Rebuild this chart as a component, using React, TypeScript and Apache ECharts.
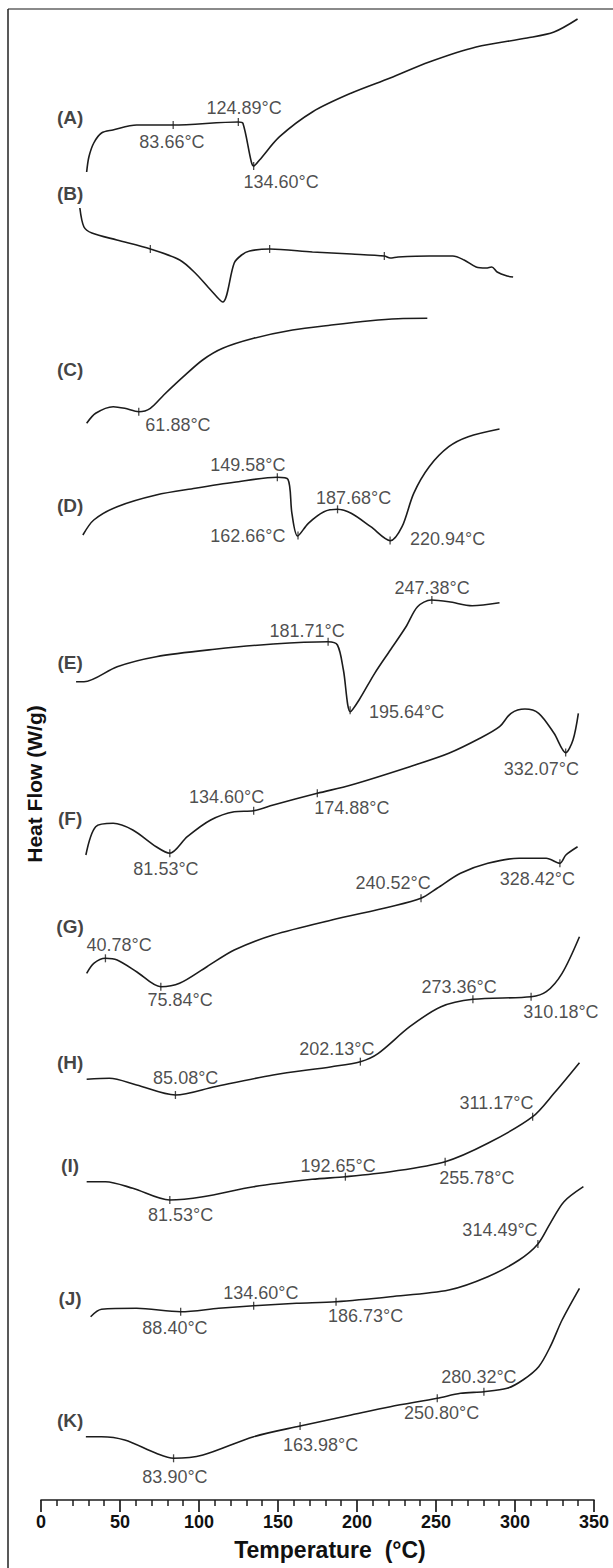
import React, { useEffect, useRef } from "react";
import * as echarts from "echarts";

// Temperature axis
const T_MIN = 0;
const T_MAX = 350;
const T_STEP = 50;

// Curves: [temperature °C, stacked heat-flow (arbitrary units, offset per trace)]
const curveA = [[28.9,1328],[30.3,1343],[33.4,1357],[38.3,1367],[45.5,1370],[60.6,1375],[83.7,1375],[124.9,1378],[127.8,1376.7],[133.1,1338.3],[134.6,1334],[138.3,1340],[151,1363.3],[172,1388.3],[196.5,1407],[221,1422],[245.7,1438],[275.4,1453],[307.6,1462],[324.7,1468],[339.6,1481]];
const curveB = [[24.6,1292],[27.2,1273],[32.2,1267],[48,1260],[69.2,1251],[87.8,1240],[97.6,1227],[107.4,1210],[115,1198],[122.3,1237],[127,1245],[132,1249],[144.7,1251],[171.8,1248],[196.5,1246],[217.3,1244],[221,1242],[226,1243],[245.7,1244],[260.6,1244],[267.8,1240],[275.4,1233],[281.7,1232],[285.3,1233],[288.7,1228],[295,1224],[298.8,1223]];
const curveC = [[28.9,1076.7],[34.6,1086.7],[45.7,1093.3],[53,1091.7],[61.9,1088.3],[69.2,1091.7],[77.7,1105],[90.1,1123.3],[102.3,1140],[115,1151.7],[134.6,1161.7],[159.2,1170],[183.8,1175],[208.5,1179.3],[226,1181.3],[244.5,1181.7]];
const curveD = [[26.5,965],[33.4,980],[48.2,993.3],[72.9,1005],[97.6,1011.7],[122.3,1017.7],[149.5,1022.7],[156.3,1020.7],[158.8,986.7],[162.4,964],[169.2,976.7],[179.1,988.3],[187.6,990.7],[196.3,986.7],[208.7,973.3],[221.1,959.3],[228.5,973.3],[235.9,1006.7],[245.7,1033.3],[258.1,1053.3],[270.4,1063.3],[290.2,1071]];
const curveE = [[22.2,818.3],[27.2,818.3],[48.2,833.3],[72.9,843.3],[109.9,850.7],[146.9,856],[181.6,858.3],[187.6,855],[191.4,830],[195.8,788.3],[201.3,800],[211.2,826.7],[221.1,850],[231,873.3],[238.3,893.3],[247,900],[258.1,898.3],[272.9,894.3],[290.2,897.3]];
const curveF = [[28.4,645],[34.6,673.3],[45.7,676.7],[58.1,670],[72.9,653.3],[81.5,646.7],[92.6,663.3],[107.4,680],[122.3,688.3],[134.6,689.3],[147,695],[174.9,706.7],[196.3,715],[233.4,733.3],[258.1,746.7],[277.8,761.7],[290.2,773.3],[297.5,786.7],[306.3,791],[315,786.7],[324.7,766.7],[332.1,747.3],[336.7,760],[340.1,786.7]];
const curveG = [[28.9,526.7],[33.4,536.7],[40.8,541.7],[48.2,540],[60.5,528.3],[75.8,513.3],[87.7,516.7],[105,533.3],[122.3,550],[146.9,565],[184,580],[221.1,593.3],[240.5,601.7],[250.7,611.7],[265.5,626.7],[282.8,636.7],[302.6,641.7],[319.8,641.7],[328.4,636.7],[332.2,645],[339.6,653.3]];
const curveH = [[28.9,420.7],[43.3,421.7],[60.5,415],[85.1,405],[109.9,413.3],[146.9,425],[184,433.3],[202.1,438.3],[213.5,446.7],[233.4,473.3],[253.2,493.3],[273.4,500.7],[310.2,503.3],[319.8,508.3],[329.8,526.7],[340.8,563.3]];
const curveI = [[28.9,318.3],[40.8,318.3],[58.1,311.7],[81.5,300],[102.5,303.3],[134.6,313.3],[171.6,320.7],[192.7,323.3],[221.1,328.3],[255.8,338.3],[282.8,356.7],[311.2,383.3],[324.7,406.7],[340.8,437.3]];
const curveJ = [[31.4,183.3],[38.3,190.7],[60.5,191.7],[88.4,188.3],[112.4,191.7],[134.6,194.3],[161.7,196.7],[186.7,198.3],[221.1,203.3],[258.1,210],[282.8,223.3],[302.6,240],[314.5,256],[322.3,276.7],[331,298.3],[343.3,313.3]];
const curveK = [[28.4,63.3],[38.3,63.3],[53,60],[72.9,46.7],[83.9,41.7],[102.5,45],[134.6,63.3],[164,74],[196.3,85],[221.1,93.3],[250.8,101.7],[265.5,106.7],[280.3,108.3],[295,111.7],[305,120],[315,133.3],[322.3,153.3],[329.8,180],[340.8,211.7]];

// Trace names and the position of their letter label [T, value]
const traceNames = ["(A)","(B)","(C)","(D)","(E)","(F)","(G)","(H)","(I)","(J)","(K)"];
const traceLabelPos = [[18.4,1383],[18.4,1307],[18.4,1131],[18.4,995],[18.4,838],[18.4,682],[18.4,574],[18.4,438],[18.4,335],[18.4,202],[18.4,80]];

// Thermal events per trace: [event temperature, label T, label value] (label null = unlabeled tick)
const eventsA = [[83.66,82.9,1358],[124.89,128.5,1392],[134.60,151.9,1318]];
const eventsB = [[69.2,null,null],[144.7,null,null],[217.3,null,null]];
const eventsC = [[61.88,86.7,1075]];
const eventsD = [[149.58,130.9,1035],[162.66,130.9,964],[187.68,197.9,1002],[220.94,257.3,961]];
const eventsE = [[181.71,168.4,869],[195.64,231.4,788],[247.38,247.5,912]];
const eventsF = [[81.53,79.1,631],[134.60,117.5,703],[174.88,196.8,692],[332.07,316.7,731]];
const eventsG = [[40.78,49.4,555],[75.84,88,500],[240.52,222.8,617],[328.42,314.2,621]];
const eventsH = [[85.08,91.6,422],[202.13,187.3,451],[273.36,264.6,513],[310.18,329.1,488]];
const eventsI = [[81.53,88.4,285],[192.65,188,334],[255.78,275.9,322],[311.17,288.3,397]];
const eventsJ = [[88.40,84.8,172],[134.60,139.2,207],[186.73,205.4,184],[314.49,290.5,270]];
const eventsK = [[83.90,84.8,23],[163.98,177,55],[250.80,253.6,87],[280.32,277.2,123]];

const curves = [curveA, curveB, curveC, curveD, curveE, curveF, curveG, curveH, curveI, curveJ, curveK];
const events = [eventsA, eventsB, eventsC, eventsD, eventsE, eventsF, eventsG, eventsH, eventsI, eventsJ, eventsK];

function interp(curve: number[][], t: number): number {
  for (let i = 0; i < curve.length - 1; i++) {
    const [x0, y0] = curve[i];
    const [x1, y1] = curve[i + 1];
    if (t >= x0 && t <= x1) {
      return y0 + ((t - x0) / (x1 - x0)) * (y1 - y0);
    }
  }
  return curve[curve.length - 1][1];
}

const FONT = "'Liberation Sans', Arial, Helvetica, sans-serif";
const INK = "#1c1c1c";

export default function App() {
  const ref = useRef<HTMLDivElement>(null);
  useEffect(() => {
    if (!ref.current) return;
    const chart = echarts.init(ref.current, undefined, { renderer: "svg" });

    const lineSeries = curves.map((c, i) => ({
      type: "line",
      name: traceNames[i],
      data: c,
      smooth: 0.3,
      symbol: "none",
      lineStyle: { color: INK, width: 1.6 },
      silent: true,
      z: 2,
    }));

    const tickData: number[][] = [];
    const textData: any[] = [];
    events.forEach((evs, i) => {
      evs.forEach((e) => {
        const t = e[0] as number;
        tickData.push([t, interp(curves[i], t)]);
        if (e[1] != null) {
          textData.push({ value: [e[1], e[2]], name: t.toFixed(2) + "°C" });
        }
      });
    });

    const letterData = traceNames.map((n, i) => ({ value: traceLabelPos[i], name: n }));

    chart.setOption({
      animation: false,
      backgroundColor: "#ffffff",
      grid: { left: 41, right: 19, top: 0, bottom: 68, containLabel: false },
      xAxis: {
        type: "value",
        min: T_MIN,
        max: T_MAX,
        interval: T_STEP,
        axisLine: { show: true, lineStyle: { color: INK, width: 1.7 } },
        axisTick: { show: true, length: 12, lineStyle: { color: INK, width: 1.7 } },
        minorTick: { show: true, splitNumber: 5, length: 6, lineStyle: { color: INK, width: 1.5 } },
        axisLabel: { color: "#111", fontWeight: "bold", fontSize: 18, fontFamily: FONT, margin: 13 },
        splitLine: { show: false },
      },
      yAxis: { type: "value", min: 0, max: 1500, show: false },
      series: [
        ...lineSeries,
        {
          type: "scatter",
          name: "events",
          data: tickData,
          symbol: "rect",
          symbolSize: [1.3, 8],
          itemStyle: { color: INK },
          silent: true,
          z: 3,
        },
        {
          type: "scatter",
          name: "eventLabels",
          data: textData,
          symbolSize: 0,
          itemStyle: { color: "rgba(0,0,0,0)" },
          label: {
            show: true,
            position: "inside",
            formatter: (p: any) => p.name,
            color: "#1e1e1e",
            fontSize: 18,
            fontFamily: FONT,
          },
          silent: true,
          z: 4,
        },
        {
          type: "scatter",
          name: "traceLabels",
          data: letterData,
          symbolSize: 0,
          itemStyle: { color: "rgba(0,0,0,0)" },
          label: {
            show: true,
            position: "inside",
            formatter: (p: any) => p.name,
            color: "#111",
            fontSize: 19,
            fontWeight: "bold",
            fontFamily: FONT,
          },
          silent: true,
          z: 4,
        },
      ],
      graphic: [
        { type: "line", shape: { x1: 8, y1: 9, x2: 613, y2: 9 }, style: { stroke: "#8a8a8a", lineWidth: 2 } },
        { type: "line", shape: { x1: 8, y1: 9, x2: 8, y2: 1568 }, style: { stroke: "#222", lineWidth: 1.5 } },
        {
          type: "text",
          x: 34,
          y: 784,
          rotation: Math.PI / 2,
          style: {
            text: "Heat Flow (W/g)",
            font: "bold 21px " + FONT,
            fill: "#111",
            textAlign: "center",
            textVerticalAlign: "middle",
            align: "center",
            verticalAlign: "middle",
          },
        },
        {
          type: "text",
          x: 330,
          y: 1550,
          style: {
            text: "Temperature  (°C)",
            font: "bold 23px " + FONT,
            fill: "#111",
            textAlign: "center",
            textVerticalAlign: "middle",
            align: "center",
            verticalAlign: "middle",
          },
        },
      ],
    });
    return () => chart.dispose();
  }, []);
  return (
    <div
      ref={ref}
      style={{ position: "absolute", left: 0, top: 0, width: 613, height: 1568, background: "#fff" }}
    />
  );
}
